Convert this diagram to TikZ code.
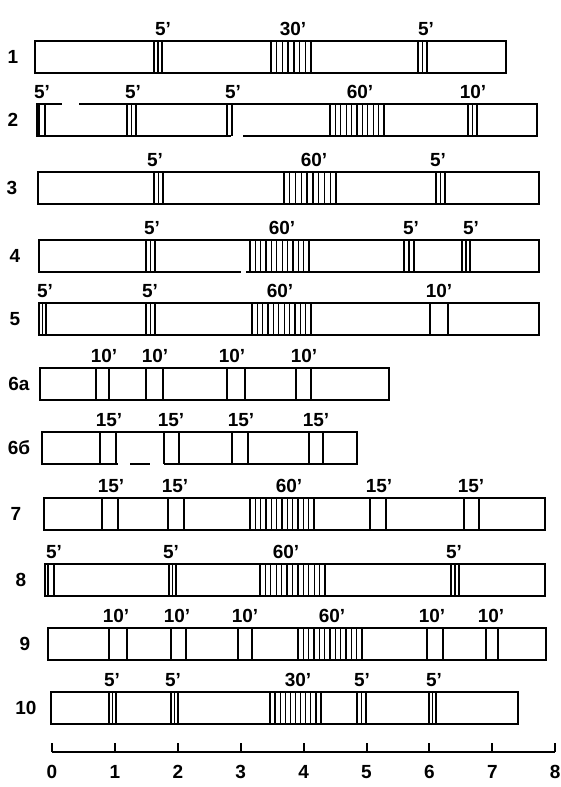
\documentclass[tikz,border=0pt]{standalone}
\usepackage{fontspec}
\setmainfont{Liberation Sans}
\usepackage{tikz}
\usetikzlibrary{positioning}

\begin{document}
\begin{tikzpicture}[x=1pt, y=-1pt,
  every node/.style={font=\fontsize{19}{19}\selectfont\bfseries, inner sep=0pt},
  bar/.style={draw=black, line width=2.8pt, fill=white},
  tickline/.style={draw=black, line width=1.3pt},
  gap/.style={draw=white, line width=4.5pt},
  lbl/.style={anchor=base},
  axis/.style={draw=black, line width=2pt},
]
\useasboundingbox (0,0) rectangle (560,787);

% schedules: name / top / left / right / label x / label
\foreach \r/\t/\l/\rr/\lx/\txt in {1/41/35/506/13/1, 2/104/37/537/13/2,
    3/172/38/539/12/3, 4/240/39/539/15/4, 5/303/39/539/15/5,
    6a/368/40/389/19/6а, 6b/432/42/357/19/6б, 7/498/44/545/16/7,
    8/564/45/545/21/8, 9/628/48/546/25/9, 10/692/51/518/26/10} {
  \draw[bar] (\l,\t) rectangle ({\rr},{\t+32});
  \node (row\r) at (\lx,{\t+16}) {\txt};
}

% breaks in the outlines
\draw[gap] (62,104) -- (79,104);
\draw[gap] (231,136) -- (243,136);
\draw[gap] (241,272) -- (246,272);
\draw[gap] (118,464) -- (130,464);
\draw[gap] (150,464) -- (164,464);

% intervals: top / from / to / divisions / label x / label
\foreach \t/\a/\b/\n/\lx/\txt in {
    41/154/162/2/163/5', 41/271/311/7/293/30', 41/418/427/2/426/5',
    104/39/45/1/42/5', 104/127/136/2/133/5', 104/227/232/1/233/5',
    104/330/384/10/360/60', 104/468/477/2/473/10',
    172/154/163/2/155/5', 172/284/336/9/314/60', 172/436/445/2/438/5',
    240/146/155/2/152/5', 240/250/309/11/282/60', 240/404/414/2/411/5',
    240/462/470/2/471/5',
    303/39/46/2/45/5', 303/146/155/2/150/5', 303/252/311/11/280/60',
    303/430/448/1/439/10',
    368/96/109/1/104/10', 368/146/163/1/155/10', 368/227/245/1/232/10',
    368/296/311/1/304/10',
    432/100/116/1/109/15', 432/164/179/1/171/15', 432/232/248/1/241/15',
    432/309/323/1/316/15',
    498/102/118/1/111/15', 498/168/184/1/175/15', 498/250/314/12/289/60',
    498/370/386/1/379/15', 498/464/479/1/471/15',
    564/48/54/1/54/5', 564/169/176/2/171/5', 564/260/325/12/286/60',
    564/451/459/2/454/5',
    628/109/127/1/116/10', 628/171/186/1/177/10', 628/238/252/1/245/10',
    628/298/362/12/332/60', 628/427/443/1/432/10', 628/486/498/1/491/10',
    692/109/116/2/112/5', 692/171/178/2/173/5', 692/270/321/10/298/30',
    692/357/366/2/362/5', 692/429/436/2/434/5'} {
  \foreach \k in {0,...,\n}
    \draw[tickline] ({\a+(\b-\a)*\k/\n},\t) -- ++(0,32);
  \node[lbl] (lab\t-\a) at (\lx,{\t-6}) {\txt};
}

% time axis
\draw[axis] (52,752) -- (555,752);
\foreach \k in {0,...,8} {
  \draw[axis] ({52+62.9*\k},752) -- ++(0,-9);
  \node (tick\k) at ({52+62.9*\k},772) {\k};
}
\end{tikzpicture}
\end{document}
